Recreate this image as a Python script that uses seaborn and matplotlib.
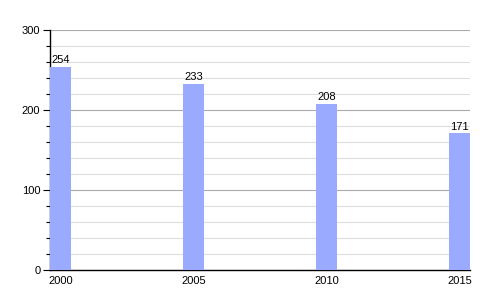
import matplotlib
matplotlib.use("Agg")
import matplotlib.pyplot as plt
import seaborn as sns
import pandas as pd
from matplotlib.ticker import MultipleLocator

years = ["2000", "2005", "2010", "2015"]
values = [254, 233, 208, 171]

sns.set_style("white")
plt.rcParams['font.family'] = ['Liberation Sans', 'DejaVu Sans']
plt.rcParams['text.color'] = 'black'
plt.rcParams['xtick.color'] = 'black'
plt.rcParams['ytick.color'] = 'black'

df = pd.DataFrame({"year": years, "value": values})

fig = plt.figure(figsize=(5, 3), dpi=100)
ax = fig.add_axes([0.1, 0.1, 0.84, 0.8])

w = 0.16
sns.barplot(data=df, x="year", y="value", color="#99aaff", saturation=1,
            width=w, ax=ax, zorder=3, linewidth=0)

ax.set_xlim(-w / 2, len(years) - 1 + w / 2)
ax.set_ylim(0, 300)
ax.yaxis.set_major_locator(MultipleLocator(100))
ax.yaxis.set_minor_locator(MultipleLocator(20))
ax.grid(which="major", axis="y", color="#aaaaaa", linewidth=0.8, zorder=0)
ax.grid(which="minor", axis="y", color="#dddddd", linewidth=0.8, zorder=0)
ax.grid(axis="x", visible=False)
ax.set_axisbelow(True)

for s in ["top", "right"]:
    ax.spines[s].set_visible(False)
for s in ["left", "bottom"]:
    ax.spines[s].set_color("black")
    ax.spines[s].set_linewidth(1)

ax.tick_params(axis="y", which="major", left=True, length=5, width=0.8,
               color="black", labelcolor="black", labelsize=8, pad=2)
ax.tick_params(axis="y", which="minor", left=True, length=3, width=0.8,
               color="black")
ax.tick_params(axis="x", bottom=False, labelcolor="black", labelsize=8, pad=1)
ax.set_xlabel("")
ax.set_ylabel("")

for c in ax.containers:
    ax.bar_label(c, labels=[str(v) for v in values], fontsize=8, padding=1,
                 color="black")

fig.savefig("out.png", dpi=100)
